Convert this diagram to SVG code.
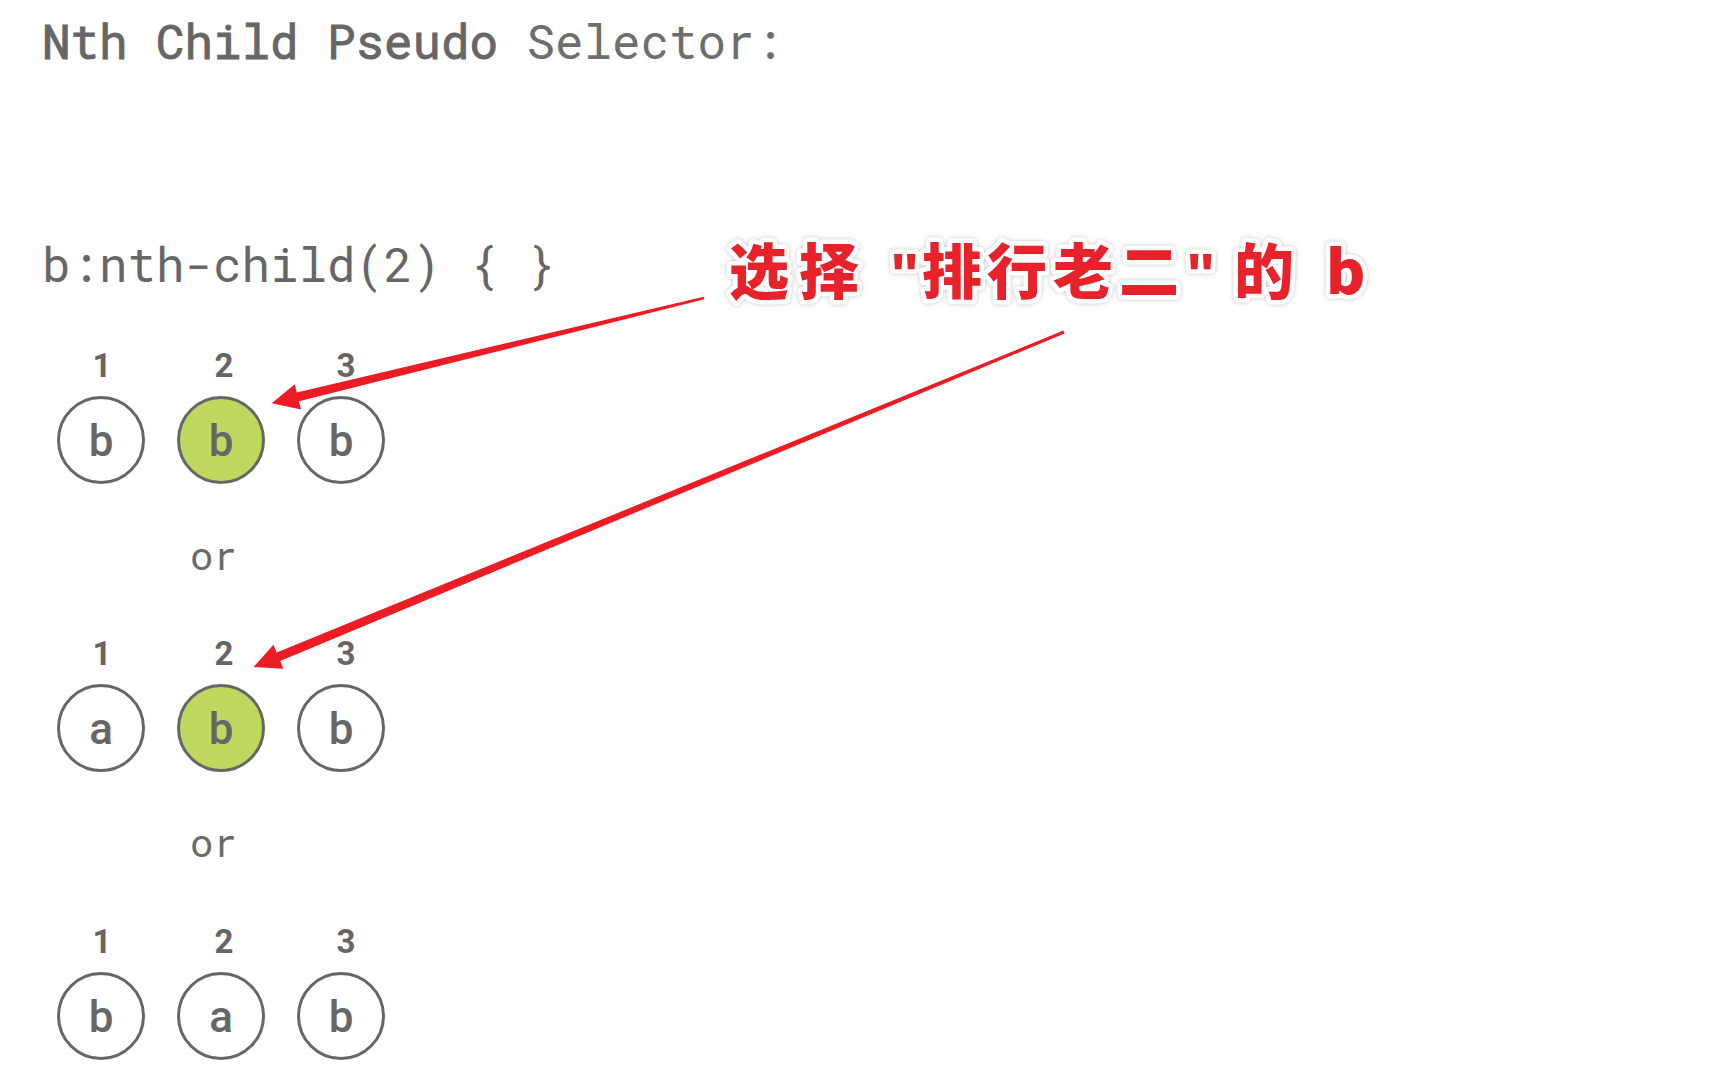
<svg xmlns="http://www.w3.org/2000/svg" width="1729" height="1083" viewBox="0 0 1729 1083">
<style>
.mono{font-family:"Roboto Mono","DejaVu Sans Mono","Liberation Mono",monospace;fill:#666}
.title-b{font-size:47.5px;stroke:#666;stroke-width:0.9}
.title-l{font-size:47.5px;fill:#6e6e6e}
.sel{font-size:47.5px}
.or{font-size:39px;fill:#6a6a6a}
.idx{font-family:Roboto,"Liberation Sans",sans-serif;font-weight:700;font-size:33px;fill:#666;text-anchor:middle}
.ltr{font-family:Roboto,"Liberation Sans",sans-serif;font-weight:500;font-size:44px;fill:#666;text-anchor:middle}
.c{fill:#fff;stroke:#666;stroke-width:3}
.c.sel-on{fill:#bed85e}
.note{font-family:"Noto Sans CJK SC","Noto Sans",sans-serif;font-weight:900;font-size:60px;fill:#e8202a;stroke:#fff;stroke-width:9;stroke-linejoin:round;paint-order:stroke}
.q{font-family:"Liberation Sans",sans-serif;font-weight:700;font-size:62px}
.arrow{fill:#ec1c24}
</style>
<defs>
<filter id="halo" x="-5%" y="-20%" width="110%" height="140%">
<feDropShadow dx="0" dy="0" stdDeviation="2" flood-color="#999" flood-opacity="0.6"/>
</filter>
</defs>
<rect width="1729" height="1083" fill="#fff"/>
<g id="title">
<text class="mono" x="42" y="59"><tspan class="title-b">Nth Child Pseudo</tspan><tspan class="title-l"> Selector:</tspan></text>
</g>
<g id="selector">
<text class="mono sel" x="42" y="282">b:nth-child(2) { }</text>
</g>
<g id="annotation" filter="url(#halo)">
<text class="note" y="294"><tspan x="729">选</tspan><tspan x="799">择</tspan><tspan class="q" x="890" y="296">"</tspan><tspan x="922" y="294">排</tspan><tspan x="987">行</tspan><tspan x="1053">老</tspan><tspan x="1119">二</tspan><tspan class="q" x="1186" y="296">"</tspan><tspan x="1234" y="294">的</tspan><tspan x="1326">b</tspan></text>
</g>
<g id="row1">
<g id="r1n1"><text class="idx" x="102" y="377">1</text><circle class="c" cx="101" cy="440" r="42.5"/><text class="ltr" x="101" y="456">b</text></g>
<g id="r1n2"><text class="idx" x="224" y="377">2</text><circle class="c sel-on" cx="221" cy="440" r="42.5"/><text class="ltr" x="221" y="456">b</text></g>
<g id="r1n3"><text class="idx" x="346" y="377">3</text><circle class="c" cx="341" cy="440" r="42.5"/><text class="ltr" x="341" y="456">b</text></g>
</g>
<g id="or1"><text class="mono or" x="190" y="570">or</text></g>
<g id="row2">
<g id="r2n1"><text class="idx" x="102" y="665">1</text><circle class="c" cx="101" cy="728" r="42.5"/><text class="ltr" x="101" y="744">a</text></g>
<g id="r2n2"><text class="idx" x="224" y="665">2</text><circle class="c sel-on" cx="221" cy="728" r="42.5"/><text class="ltr" x="221" y="744">b</text></g>
<g id="r2n3"><text class="idx" x="346" y="665">3</text><circle class="c" cx="341" cy="728" r="42.5"/><text class="ltr" x="341" y="744">b</text></g>
</g>
<g id="or2"><text class="mono or" x="190" y="857">or</text></g>
<g id="row3">
<g id="r3n1"><text class="idx" x="102" y="953">1</text><circle class="c" cx="101" cy="1016" r="42.5"/><text class="ltr" x="101" y="1032">b</text></g>
<g id="r3n2"><text class="idx" x="224" y="953">2</text><circle class="c" cx="221" cy="1016" r="42.5"/><text class="ltr" x="221" y="1032">a</text></g>
<g id="r3n3"><text class="idx" x="346" y="953">3</text><circle class="c" cx="341" cy="1016" r="42.5"/><text class="ltr" x="341" y="1032">b</text></g>
</g>
<g id="connectors">
<polygon class="arrow" points="703.7,296.8 296.8,392.5 294.8,384.3 271.7,403.3 301,409.5 299,401.3 704.3,299.2"/>
<polygon class="arrow" points="1063.4,330.6 276.7,652.5 273.5,644.7 253.5,667 283.4,668.7 280.2,660.9 1064.6,333.4"/>
</g>
</svg>
